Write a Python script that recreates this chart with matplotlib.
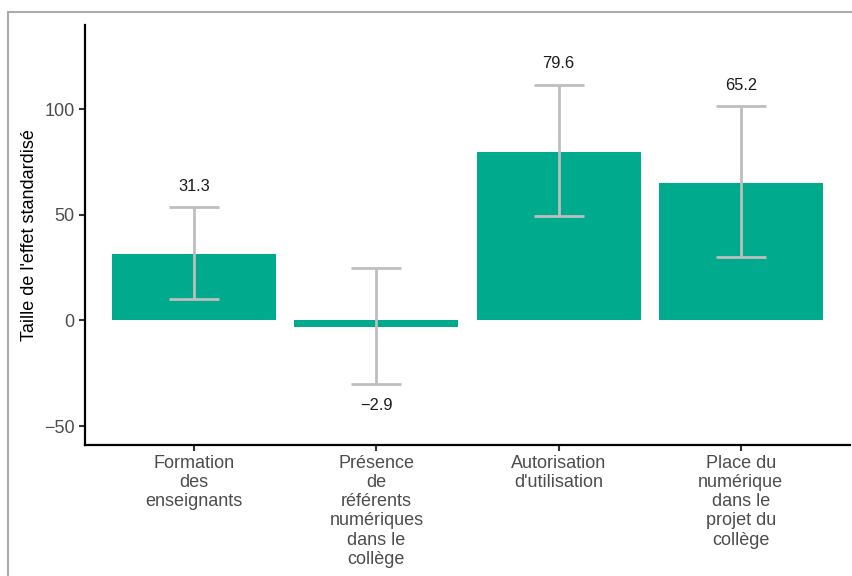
import matplotlib
matplotlib.use("Agg")
import matplotlib.pyplot as plt
from matplotlib.patches import Rectangle
import numpy as np

plt.rcParams['font.family'] = ['Liberation Sans', 'DejaVu Sans']

# Data
categories = ["Formation\ndes\nenseignants",
              "Présence\nde\nréférents\nnumériques\ndans le\ncollège",
              "Autorisation\nd'utilisation",
              "Place du\nnumérique\ndans le\nprojet du\ncollège"]
effects = [31.3, -2.9, 79.6, 65.2]
ci_low = [10.0, -30.3, 49.3, 29.9]
ci_high = [53.6, 25.1, 111.8, 101.4]
value_labels = ["31.3", "\u22122.9", "79.6", "65.2"]

bar_color = "#00AA8C"
err_color = "#BEBEBE"

fig = plt.figure(figsize=(8.52, 5.76), dpi=100)
# outer grey frame
fig.patches.append(Rectangle((8 / 852, -0.05), 1.0, (576 - 12) / 576 + 0.05,
                             transform=fig.transFigure, fill=False,
                             edgecolor="#AAAAAA", linewidth=1.5))

ax = fig.add_axes([85 / 852, (576 - 445) / 576, (850 - 85) / 852, (445 - 25) / 576])

x = np.arange(len(categories))
ax.bar(x, effects, width=0.9, color=bar_color, zorder=2)

eff = np.array(effects)
yerr = np.vstack([eff - np.array(ci_low), np.array(ci_high) - eff])
ax.errorbar(x, eff, yerr=yerr, fmt="none", ecolor=err_color, elinewidth=2,
            capsize=18, capthick=2, zorder=3)

# value labels above upper CI (or below lower CI for negatives)
for xi, v, lo, hi, lab in zip(x, effects, ci_low, ci_high, value_labels):
    if v >= 0:
        ax.text(xi, hi + 10, lab, ha="center", va="center", fontsize=11.8, color="#1A1A1A")
    else:
        ax.text(xi, lo - 10, lab, ha="center", va="center", fontsize=11.8, color="#1A1A1A")

ax.set_xlim(-0.6, 3.6)
ax.set_ylim(-59, 140)
ax.set_yticks([-50, 0, 50, 100])
ax.set_yticklabels(["\u221250", "0", "50", "100"])
ax.set_xticks(x)
ax.set_xticklabels(categories, linespacing=1.17)

ax.spines["top"].set_visible(False)
ax.spines["right"].set_visible(False)
for s in ["left", "bottom"]:
    ax.spines[s].set_linewidth(1.6)
    ax.spines[s].set_color("black")

ax.tick_params(axis="both", labelsize=13, labelcolor="#4D4D4D", color="#333333",
               length=4, width=1.5)
ax.tick_params(axis="x", pad=3)
ax.set_ylabel("Taille de l'effet standardisé", fontsize=13, color="black", labelpad=4)

fig.savefig("out.png", dpi=100)
